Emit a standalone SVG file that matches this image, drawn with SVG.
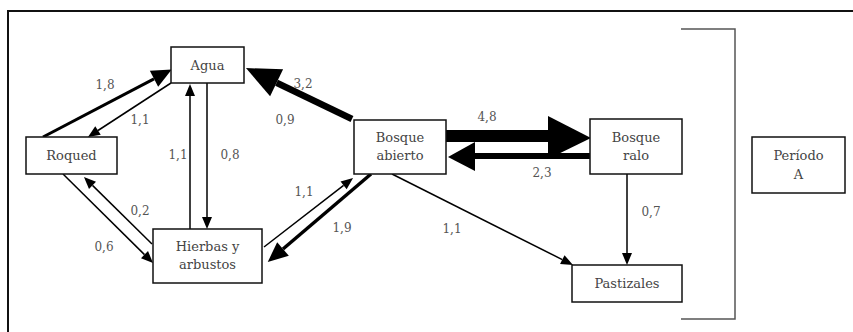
<svg xmlns="http://www.w3.org/2000/svg" width="853" height="332" viewBox="0 0 853 332">
<style>
.box{fill:#fff;stroke:#111;stroke-width:1.5}
.t{font-family:"DejaVu Serif","Liberation Serif",serif;font-size:13px;fill:#444;text-anchor:middle;dominant-baseline:central}
.l{font-family:"DejaVu Serif","Liberation Serif",serif;font-size:12px;fill:#555;text-anchor:middle;dominant-baseline:central}
.e{stroke:#000;fill:none;stroke-linecap:butt}
.h{fill:#000;stroke:none}
</style>
<defs>
<marker id="ms" markerUnits="userSpaceOnUse" markerWidth="14" markerHeight="12" refX="0" refY="5" orient="auto" overflow="visible"><path class="h" d="M0,0 L12,5 L0,10 Z"/></marker>
<marker id="mm" markerUnits="userSpaceOnUse" markerWidth="24" markerHeight="20" refX="0" refY="9" orient="auto" overflow="visible"><path class="h" d="M0,0 L20,9 L0,18 Z"/></marker>
<marker id="ml" markerUnits="userSpaceOnUse" markerWidth="40" markerHeight="32" refX="0" refY="15" orient="auto" overflow="visible"><path class="h" d="M0,0 L34,15 L0,30 Z"/></marker>
</defs>
<rect width="853" height="332" fill="#fff"/>
<path d="M8,332 V11 H853" fill="none" stroke="#111" stroke-width="2"/>
<path d="M681,29 H735 V319 H681" fill="none" stroke="#555" stroke-width="1.5"/>

<g id="connectors">
<line class="e" x1="43" y1="137" x2="154" y2="78.8" stroke-width="3" marker-end="url(#mm)"/>
<line class="e" x1="171" y1="83" x2="98" y2="130.5" stroke-width="1.5" marker-end="url(#ms)"/>
<line class="e" x1="190" y1="229" x2="190" y2="96" stroke-width="1.5" marker-end="url(#ms)"/>
<line class="e" x1="207" y1="83" x2="207" y2="217" stroke-width="1.5" marker-end="url(#ms)"/>
<line class="e" x1="63" y1="174" x2="144.5" y2="254.6" stroke-width="1.5" marker-end="url(#ms)"/>
<line class="e" x1="152" y1="244" x2="92.5" y2="185.4" stroke-width="1.5" marker-end="url(#ms)"/>
<line class="e" x1="264" y1="247" x2="343.6" y2="185.4" stroke-width="1.5" marker-end="url(#ms)"/>
<line class="e" x1="371" y1="174" x2="283" y2="249" stroke-width="3.5" marker-end="url(#mm)"/>
<line class="e" x1="352" y1="119" x2="276.6" y2="82.8" stroke-width="6.5" marker-end="url(#ml)"/>
<line class="e" x1="446" y1="136" x2="549" y2="136" stroke-width="12"/>
<polygon class="h" points="548,116 591,138 548,159"/>
<line class="e" x1="590" y1="156" x2="474" y2="156" stroke-width="6"/>
<polygon class="h" points="475,142 448,157 475,171"/>
<line class="e" x1="392" y1="174" x2="562.3" y2="259.6" stroke-width="1.5" marker-end="url(#ms)"/>
<line class="e" x1="627" y1="174" x2="627" y2="253" stroke-width="1.5" marker-end="url(#ms)"/>

<text class="l" x="105" y="85">1,8</text>
<text class="l" x="140" y="120">1,1</text>
<text class="l" x="178" y="155">1,1</text>
<text class="l" x="230" y="155">0,8</text>
<text class="l" x="140" y="211">0,2</text>
<text class="l" x="104" y="247">0,6</text>
<text class="l" x="303" y="84">3,2</text>
<text class="l" x="285" y="120">0,9</text>
<text class="l" x="304" y="192">1,1</text>
<text class="l" x="342" y="228">1,9</text>
<text class="l" x="487" y="117">4,8</text>
<text class="l" x="542" y="173">2,3</text>
<text class="l" x="452" y="229">1,1</text>
<text class="l" x="651" y="212">0,7</text>
</g>

<g id="agua"><rect class="box" x="171" y="47" width="73" height="36"/><text class="t" x="207.5" y="65">Agua</text></g>
<g id="roqued"><rect class="box" x="26" y="137" width="91" height="37"/><text class="t" x="71.5" y="155.5">Roqued</text></g>
<g id="hierbas"><rect class="box" x="153" y="229" width="109" height="54"/><text class="t" x="207.5" y="246">Hierbas y</text><text class="t" x="207.5" y="264">arbustos</text></g>
<g id="bosque-abierto"><rect class="box" x="354" y="120" width="92" height="54"/><text class="t" x="400" y="137">Bosque</text><text class="t" x="400" y="155">abierto</text></g>
<g id="bosque-ralo"><rect class="box" x="590" y="119" width="92" height="55"/><text class="t" x="636" y="137">Bosque</text><text class="t" x="636" y="155">ralo</text></g>
<g id="pastizales"><rect class="box" x="572" y="265" width="110" height="37"/><text class="t" x="627" y="283.5">Pastizales</text></g>
<g id="periodo"><rect class="box" x="752" y="137" width="93" height="56"/><text class="t" x="798.5" y="155">Período</text><text class="t" x="798.5" y="174">A</text></g>
</svg>
